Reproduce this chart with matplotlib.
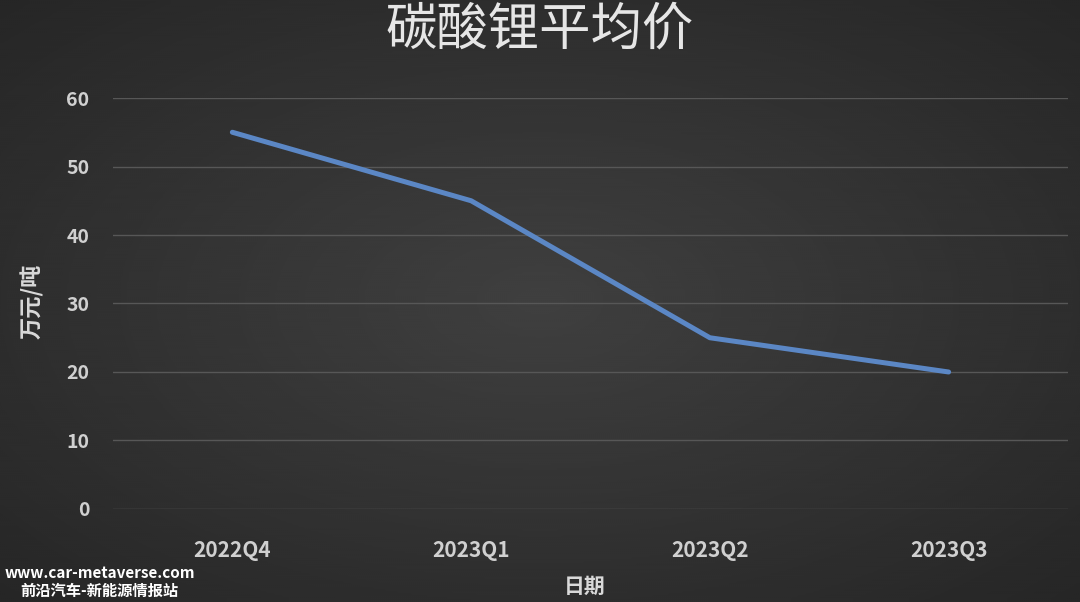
import numpy as np
import matplotlib
matplotlib.use("Agg")
import matplotlib.pyplot as plt

plt.rcParams['font.family'] = ['Noto Sans CJK SC', 'DejaVu Sans']

# data
quarters = ["2022Q4", "2023Q1", "2023Q2", "2023Q3"]
prices = [55, 45, 25, 20]   # 万元/吨
yticks = [0, 10, 20, 30, 40, 50, 60]

fig = plt.figure(figsize=(10.8, 6.02), dpi=100)

# radial gradient background
bg = fig.add_axes([0, 0, 1, 1], zorder=0)
yy, xx = np.mgrid[-1:1:300j, -1:1:540j]
r = np.sqrt(xx**2 + yy**2) / np.sqrt(2)
bg.imshow(0.25 - 0.10 * r, cmap="gray", vmin=0, vmax=1, aspect="auto",
          extent=[0, 1, 0, 1], interpolation="bicubic")
bg.axis("off")

ax = fig.add_axes([0.1046, 0.1545, 0.8843, 0.6827], zorder=1)
ax.patch.set_alpha(0)
x = np.arange(len(quarters))
ax.plot(x, prices, color="#5b87c5", lw=3.6, solid_capstyle="round", zorder=3)

ax.set_xlim(-0.5, 3.5)
ax.set_ylim(0, 60)
ax.set_yticks(yticks)
ax.set_xticks(x)
ax.set_xticklabels(quarters)
ax.grid(axis="y", color="#575757", lw=1)
for s in ax.spines.values():
    s.set_visible(False)
ax.tick_params(length=0, colors="#d0d0d0")
ax.tick_params(axis="y", pad=17, labelsize=14)
ax.tick_params(axis="x", pad=22, labelsize=15)
for lab in ax.get_yticklabels() + ax.get_xticklabels():
    lab.set_fontweight("bold")

fig.text(0.5, 0.95, "碳酸锂平均价", ha="center", va="center",
         fontsize=37, fontweight="medium", color="#e6e6e6")
fig.text(0.03, 0.50, "万元/吨", rotation=90, ha="center", va="center",
         fontsize=16, fontweight="bold", color="#d9d9d9")
fig.text(0.541, 0.026, "日期", ha="center", va="center",
         fontsize=15, fontweight="bold", color="#d9d9d9")

# watermark
fig.text(0.092, 0.049, "www.car-metaverse.com", ha="center", va="center",
         fontsize=11, fontweight="bold", color="white", zorder=5)
fig.text(0.092, 0.018, "前沿汽车-新能源情报站", ha="center", va="center",
         fontsize=11, fontweight="bold", color="white", zorder=5)

fig.savefig("out.png", dpi=100)
